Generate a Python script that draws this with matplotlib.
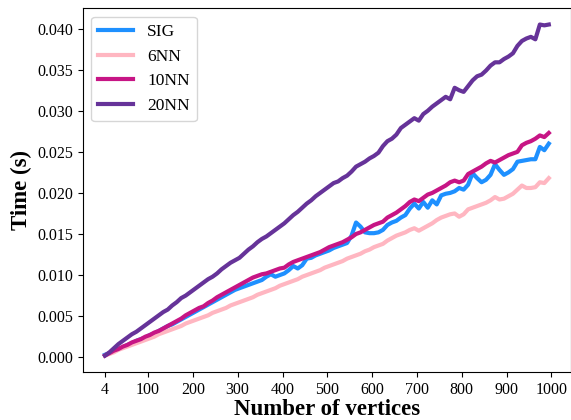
""" Runtime of SIG vs kNN graph construction against number of vertices. """

import numpy as np
import matplotlib
matplotlib.use("Agg")
import matplotlib.pyplot as plt

plt.rcParams["font.family"] = ["Liberation Serif", "DejaVu Serif"]

# Number of vertices (x axis)
vertices = list(range(4, 1000, 10))

# Timings in seconds
sig_times = [
    0.0003, 0.0005, 0.0008, 0.0010, 0.0012, 0.0015, 0.0017, 0.0020, 0.0022, 0.0024,
    0.0027, 0.0029, 0.0032, 0.0035, 0.0038, 0.0040, 0.0043, 0.0046, 0.0049, 0.0052,
    0.0055, 0.0058, 0.0061, 0.0064, 0.0067, 0.0070, 0.0073, 0.0076, 0.0079, 0.0082,
    0.0084, 0.0086, 0.0088, 0.0090, 0.0092, 0.0094, 0.0098, 0.0101, 0.0098, 0.0100,
    0.0102, 0.0106, 0.0111, 0.0108, 0.0112, 0.0120, 0.0121, 0.0124, 0.0126, 0.0128,
    0.0130, 0.0133, 0.0135, 0.0137, 0.0139, 0.0148, 0.0164, 0.0159, 0.0152, 0.0151,
    0.0151, 0.0152, 0.0155, 0.0161, 0.0164, 0.0166, 0.0170, 0.0173, 0.0181, 0.0187,
    0.0181, 0.0189, 0.0182, 0.0191, 0.0186, 0.0197, 0.0199, 0.0200, 0.0202, 0.0206,
    0.0204, 0.0210, 0.0224, 0.0218, 0.0213, 0.0216, 0.0222, 0.0235, 0.0228, 0.0222,
    0.0225, 0.0229, 0.0238, 0.0239, 0.0240, 0.0241, 0.0241, 0.0256, 0.0252, 0.0260,
]

nn6_times = [
    0.0002, 0.0004, 0.0006, 0.0009, 0.0011, 0.0013, 0.0015, 0.0017, 0.0019, 0.0021,
    0.0023, 0.0025, 0.0028, 0.0030, 0.0032, 0.0034, 0.0036, 0.0038, 0.0041, 0.0043,
    0.0045, 0.0047, 0.0049, 0.0051, 0.0054, 0.0056, 0.0058, 0.0060, 0.0063, 0.0065,
    0.0067, 0.0069, 0.0071, 0.0073, 0.0076, 0.0078, 0.0080, 0.0082, 0.0084, 0.0087,
    0.0089, 0.0091, 0.0093, 0.0095, 0.0098, 0.0100, 0.0102, 0.0104, 0.0106, 0.0109,
    0.0111, 0.0113, 0.0115, 0.0117, 0.0120, 0.0122, 0.0124, 0.0126, 0.0129, 0.0131,
    0.0134, 0.0136, 0.0138, 0.0142, 0.0145, 0.0148, 0.0150, 0.0152, 0.0155, 0.0157,
    0.0154, 0.0157, 0.0160, 0.0163, 0.0167, 0.0170, 0.0172, 0.0174, 0.0175, 0.0171,
    0.0174, 0.0180, 0.0182, 0.0184, 0.0186, 0.0188, 0.0191, 0.0195, 0.0192, 0.0193,
    0.0196, 0.0199, 0.0204, 0.0209, 0.0206, 0.0206, 0.0207, 0.0213, 0.0212, 0.0218,
]

nn10_times = [
    0.0002, 0.0005, 0.0008, 0.0010, 0.0013, 0.0015, 0.0018, 0.0020, 0.0022, 0.0025,
    0.0027, 0.0030, 0.0032, 0.0035, 0.0038, 0.0041, 0.0044, 0.0047, 0.0051, 0.0054,
    0.0057, 0.0060, 0.0062, 0.0066, 0.0069, 0.0073, 0.0076, 0.0079, 0.0082, 0.0085,
    0.0088, 0.0091, 0.0094, 0.0097, 0.0099, 0.0101, 0.0102, 0.0104, 0.0106, 0.0108,
    0.0109, 0.0113, 0.0116, 0.0118, 0.0120, 0.0122, 0.0124, 0.0126, 0.0128, 0.0131,
    0.0134, 0.0136, 0.0138, 0.0140, 0.0143, 0.0146, 0.0150, 0.0152, 0.0155, 0.0158,
    0.0161, 0.0163, 0.0165, 0.0170, 0.0173, 0.0176, 0.0180, 0.0184, 0.0189, 0.0192,
    0.0190, 0.0194, 0.0198, 0.0200, 0.0203, 0.0206, 0.0209, 0.0213, 0.0215, 0.0213,
    0.0215, 0.0223, 0.0226, 0.0229, 0.0232, 0.0236, 0.0239, 0.0237, 0.0240, 0.0243,
    0.0246, 0.0248, 0.0250, 0.0258, 0.0261, 0.0263, 0.0266, 0.0270, 0.0268, 0.0273,
]

nn20_times = [
    0.0002, 0.0006, 0.0011, 0.0016, 0.0020, 0.0024, 0.0028, 0.0031, 0.0035, 0.0039,
    0.0043, 0.0047, 0.0051, 0.0055, 0.0058, 0.0063, 0.0067, 0.0072, 0.0075, 0.0079,
    0.0083, 0.0087, 0.0091, 0.0095, 0.0098, 0.0102, 0.0107, 0.0111, 0.0115, 0.0118,
    0.0121, 0.0126, 0.0131, 0.0135, 0.0140, 0.0144, 0.0147, 0.0151, 0.0155, 0.0159,
    0.0163, 0.0168, 0.0173, 0.0177, 0.0182, 0.0187, 0.0191, 0.0196, 0.0200, 0.0204,
    0.0208, 0.0212, 0.0214, 0.0218, 0.0221, 0.0226, 0.0232, 0.0235, 0.0238, 0.0242,
    0.0245, 0.0249, 0.0257, 0.0263, 0.0266, 0.0271, 0.0279, 0.0283, 0.0287, 0.0291,
    0.0288, 0.0296, 0.0300, 0.0305, 0.0309, 0.0313, 0.0317, 0.0314, 0.0328, 0.0325,
    0.0323, 0.0330, 0.0337, 0.0342, 0.0344, 0.0349, 0.0355, 0.0359, 0.0359, 0.0363,
    0.0366, 0.0370, 0.0379, 0.0385, 0.0388, 0.0390, 0.0387, 0.0405, 0.0404, 0.0405,
]

series_names = ["SIG", "6NN", "10NN", "20NN"]
series_colours = ["#1E90FF", "#FFB6C1", "#C71585", "#663399"]
x_ticks = [4, 100, 200, 300, 400, 500, 600, 700, 800, 900, 1000]


def main():
    fig = plt.figure(figsize=(5.71, 4.2), dpi=100)
    ax = fig.add_axes([0.145, 0.114, 0.855, 0.867])

    all_times = [sig_times, nn6_times, nn10_times, nn20_times]
    for times, name, colour in zip(all_times, series_names, series_colours):
        ax.plot(vertices, times, color=colour, linewidth=3, label=name)

    # Axis formatting
    ax.set_xticks(x_ticks)
    ax.set_yticks(np.arange(0, 0.0401, 0.005))
    ax.yaxis.set_major_formatter(plt.FormatStrFormatter("%.3f"))
    ax.tick_params(labelsize=11.5)

    ax.set_xlabel("Number of vertices", fontsize=16.5, fontweight="bold", labelpad=0.5)
    ax.set_ylabel("Time (s)", fontsize=16.5, fontweight="bold")

    ax.legend(loc="upper left", fontsize=12.5)

    fig.savefig("out.png", dpi=100)


if __name__ == "__main__":
    main()
